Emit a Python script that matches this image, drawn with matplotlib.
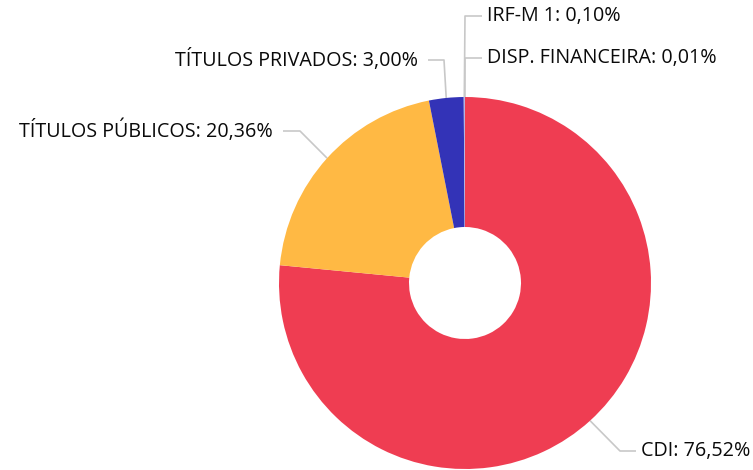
import numpy as np
import matplotlib.pyplot as plt

labels = ["CDI", "TÍTULOS PÚBLICOS", "TÍTULOS PRIVADOS", "IRF-M 1", "DISP. FINANCEIRA"]
values = [76.52, 20.36, 3.00, 0.10, 0.01]
colors = ["#EF3D52", "#FFB944", "#3333B7", "#A9A9E0", "#C8C8C8"]

plt.rcParams['font.family'] = ['Open Sans', 'DejaVu Sans']

W, H = 753, 470
fig = plt.figure(figsize=(W / 100, H / 100), dpi=100)
ax = fig.add_axes([0, 0, 1, 1])

cx, cy, R = 465, H - 283, 186
wedges, _ = ax.pie(values, colors=colors, startangle=90, counterclock=False,
                   center=(cx, cy), radius=R, frame=True,
                   wedgeprops=dict(width=130, linewidth=0))
ax.set_xlim(0, W)
ax.set_ylim(0, H)
ax.set_aspect('equal')
ax.axis('off')

# label layout: (elbow x, elbow y, end x, text side) in image pixels
layout = [
    (620, 451, 636, 'left'),
    (300, 131, 283, 'right'),
    (444, 60, 428, 'right'),
    (465, 16, 482, 'left'),
    (465, 58, 482, 'left'),
]

line_col = "#C8C8C8"
for w, lab, val, (ex, ey, tx, side) in zip(wedges, labels, values, layout):
    ang = np.deg2rad((w.theta1 + w.theta2) / 2)
    sx = cx + R * np.cos(ang)
    sy = cy + R * np.sin(ang)
    ax.plot([sx, ex, tx], [sy, H - ey, H - ey], color=line_col, lw=1.2,
            solid_capstyle='butt', zorder=0)
    num = f"{val:.2f}".replace('.', ',')
    txt = f"{lab}: {num}%"
    if side == 'left':
        ax.text(tx + 5, H - ey, txt, ha='left', va='center', fontsize=14.2, color='#0A0A0A')
    else:
        ax.text(tx - 10, H - ey, txt, ha='right', va='center', fontsize=14.2, color='#0A0A0A')

fig.savefig("out.png", dpi=100)
